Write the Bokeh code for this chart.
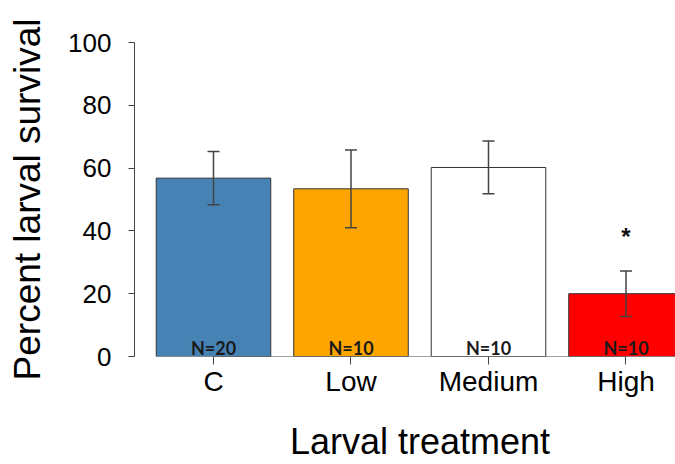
from bokeh.plotting import figure
from bokeh.models import Range1d, FixedTicker, Whisker, ColumnDataSource, TeeHead
from bokeh.core.properties import value
from bokeh.embed import file_html
from bokeh.resources import INLINE

# ---- data ----
categories = ["C", "Low", "Medium", "High"]
survival = [56.8, 53.4, 60.2, 20.0]
errors = [8.45, 12.4, 8.4, 7.25]
n_labels = ["N=20", "N=10", "N=10", "N=10"]
bar_colors = ["#4682B4", "#FFA500", "#FFFFFF", "#FF0000"]
significance = ["", "", "", "*"]
sig_height = [0, 0, 0, 38.2]
y_ticks = [0, 20, 40, 60, 80, 100]

positions = [i + 1 for i in range(len(categories))]
upper = [m + e for m, e in zip(survival, errors)]
lower = [m - e for m, e in zip(survival, errors)]

src = ColumnDataSource(dict(x=positions, top=survival, upper=upper, lower=lower,
                            color=bar_colors, n=n_labels, sig=significance, sy=sig_height))

FONT = "Liberation Sans"

p = figure(width=675, height=464, output_backend="svg", toolbar_location=None,
           x_range=Range1d(0.4255, 4.36), y_range=Range1d(0, 100),
           min_border_left=134, min_border_right=0, min_border_top=42, min_border_bottom=108)
p.outline_line_color = None
p.xgrid.visible = False
p.ygrid.visible = False
p.background_fill_color = "white"

p.vbar(x="x", top="top", bottom=0, width=0.833, source=src,
       fill_color="color", line_color="#333333", line_width=1)

p.segment(x0=positions[0], y0=0, x1=positions[-1], y1=0, line_color="#444444", line_width=1)

w = Whisker(base="x", upper="upper", lower="lower", source=src,
            line_color="#444444", line_width=1.5, level="overlay",
            upper_head=TeeHead(size=12, line_color="#444444", line_width=1.5),
            lower_head=TeeHead(size=12, line_color="#444444", line_width=1.5))
p.add_layout(w)

p.text(x="x", y=0, text="n", source=src, text_align="center", text_baseline="alphabetic",
       y_offset=-9, text_font=value("Lato"), text_font_style="bold",
       text_font_size="18px", text_color="#1a1a1a")

p.text(x="x", y="sy", text="sig", source=src, text_align="center", text_baseline="middle",
       text_font=value(FONT), text_font_style="bold", text_font_size="24px", text_color="#111111")

# y axis
p.yaxis.ticker = FixedTicker(ticks=y_ticks)
p.yaxis.minor_tick_line_color = None
p.yaxis.major_tick_in = 0
p.yaxis.major_tick_out = 6
p.yaxis.major_tick_line_color = "#444444"
p.yaxis.axis_line_color = "#444444"
p.yaxis.major_label_text_font = FONT
p.yaxis.major_label_text_font_size = "26px"
p.yaxis.major_label_text_color = "black"
p.yaxis.major_label_standoff = 17
p.yaxis.axis_label = "Percent larval survival"
p.yaxis.axis_label_text_font = FONT
p.yaxis.axis_label_text_font_size = "37px"
p.yaxis.axis_label_text_font_style = "normal"
p.yaxis.axis_label_text_color = "black"
p.yaxis.axis_label_standoff = 17

# x axis
p.xaxis.ticker = FixedTicker(ticks=positions)
p.xaxis.major_label_overrides = {x: c for x, c in zip(positions, categories)}
p.xaxis.minor_tick_line_color = None
p.xaxis.axis_line_color = None
p.xaxis.major_tick_in = 0
p.xaxis.major_tick_out = 8
p.xaxis.major_tick_line_color = "#444444"
p.xaxis.major_label_text_font = FONT
p.xaxis.major_label_text_font_size = "28px"
p.xaxis.major_label_text_color = "black"
p.xaxis.major_label_standoff = 1
p.xaxis.axis_label = "\u00a0\u00a0\u00a0Larval treatment"
p.xaxis.axis_label_text_font = FONT
p.xaxis.axis_label_text_font_size = "36px"
p.xaxis.axis_label_text_font_style = "normal"
p.xaxis.axis_label_text_color = "black"
p.xaxis.axis_label_standoff = 21

open("out.html", "w").write(file_html(p, INLINE))
